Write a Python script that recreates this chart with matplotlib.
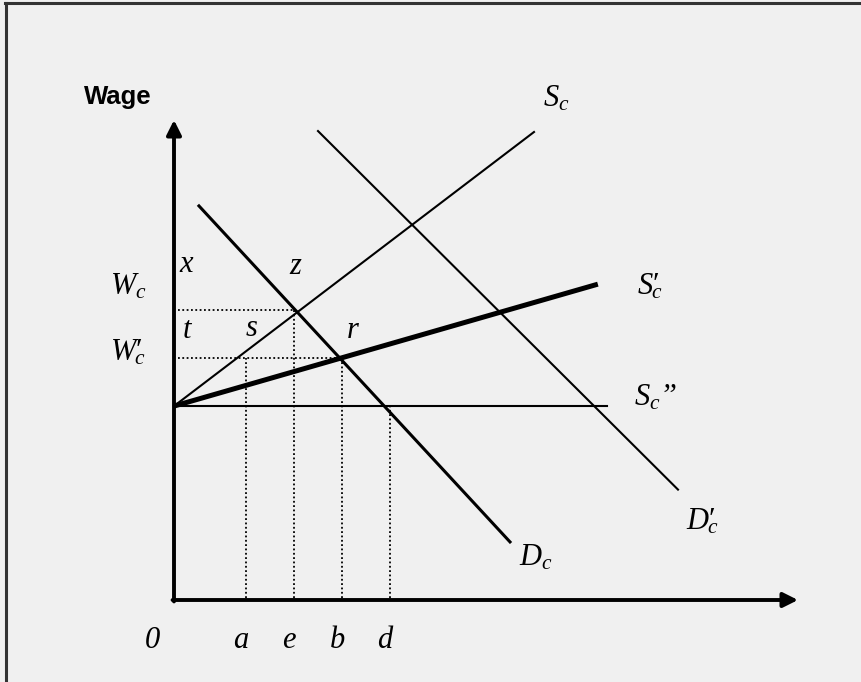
import matplotlib
matplotlib.use("Agg")
import matplotlib.pyplot as plt
from matplotlib.lines import Line2D

plt.rcParams['mathtext.fontset'] = 'custom'
plt.rcParams['mathtext.rm'] = 'Liberation Serif'
plt.rcParams['mathtext.it'] = 'Liberation Serif:italic'

# curves (x = quantity, y = wage)
sc_x = [0.0, 7.5]
sc_y = [4.04, 9.75]
sc1_x = [0.0, 8.83]
sc1_y = [4.04, 6.58]
sc2_x = [0.0, 9.02]
sc2_y = [4.04, 4.04]
dc_x = [0.52, 7.0]
dc_y = [8.21, 1.21]
dc1_x = [3.0, 10.5]
dc1_y = [9.77, 2.3]

# wage levels and quantities
wages = [6.05, 5.05]
qty_names = ['a', 'e', 'b', 'd']
qty_vals = [1.5, 2.5, 3.5, 4.5]
qty_tops = [5.05, 6.05, 5.05, 4.04]

BG = '#f0f0f0'
fig = plt.figure(figsize=(8.62, 6.82), dpi=100, facecolor=BG)
ax = fig.add_axes([0, 0, 1, 1])
ax.set_facecolor(BG)
ax.set_xlim(-174 / 48, 688 / 48)
ax.set_ylim(-82 / 48, 600 / 48)
ax.axis('off')

# frame (left and top edge only)
fig.add_artist(Line2D([0.007, 0.007], [0, 0.996], color='#333333', lw=2.2))
fig.add_artist(Line2D([0.006, 1.0], [0.996, 0.996], color='#333333', lw=2.2))

# axes with arrows
ax.annotate('', xy=(0, 10.0), xytext=(0, -0.03),
            arrowprops=dict(arrowstyle='-|>', lw=2.8, color='black',
                            mutation_scale=22, shrinkA=0, shrinkB=0))
ax.annotate('', xy=(13.0, 0), xytext=(-0.03, 0),
            arrowprops=dict(arrowstyle='-|>', lw=2.8, color='black',
                            mutation_scale=22, shrinkA=0, shrinkB=0))

# dotted guides
dot = dict(color='black', lw=1.3, linestyle=(0, (1, 1.4)))
ax.plot([0.08, 2.55], [wages[0], wages[0]], **dot)
ax.plot([0.08, 3.52], [wages[1], wages[1]], **dot)
for q, top in zip(qty_vals, qty_tops):
    ax.plot([q, q], [0.05, top], **dot)

# curves
ax.plot(sc_x, sc_y, color='black', lw=1.5)
ax.plot(sc2_x, sc2_y, color='black', lw=1.5)
ax.plot(dc_x, dc_y, color='black', lw=2.2)
ax.plot(dc1_x, dc1_y, color='black', lw=1.5)
ax.plot(sc1_x, sc1_y, color='black', lw=3.6, solid_capstyle='butt')

serif = dict(family='Liberation Serif', style='italic', fontsize=22,
             va='baseline')

ax.text(-1.17, 10.33, 'Wage', family='Liberation Sans', weight='bold',
        fontsize=18.5, ha='center', va='baseline')

ax.text(-1.33, 6.375, '$W_c$', ha='left', **serif)
ax.text(-1.33, 5.0, '$W\\prime\\!\\!_c$', ha='left', **serif)

ax.text(0.25, 6.83, 'x', ha='center', **serif)
ax.text(2.53, 6.79, 'z', ha='center', **serif)
ax.text(0.27, 5.46, 't', ha='center', **serif)
ax.text(1.61, 5.5, 's', ha='center', **serif)
ax.text(3.73, 5.46, 'r', ha='center', **serif)

ax.text(7.69, 10.29, '$S_c$', ha='left', **serif)
ax.text(9.65, 6.375, '$S\\prime\\!\\!_c$', ha='left', **serif)
ax.text(9.58, 4.06, '$S_c$\u201d', ha='left', **serif)
ax.text(7.19, 0.71, '$D_c$', ha='left', **serif)
ax.text(10.67, 1.46, '$D\\prime\\!\\!_c$', ha='left', **serif)

ax.text(-0.45, -1.0, '0', ha='center', **serif)
for name, q in zip(qty_names, qty_vals):
    ax.text(q - 0.1, -1.0, name, ha='center', **serif)

fig.savefig('out.png', dpi=100, facecolor=BG)
